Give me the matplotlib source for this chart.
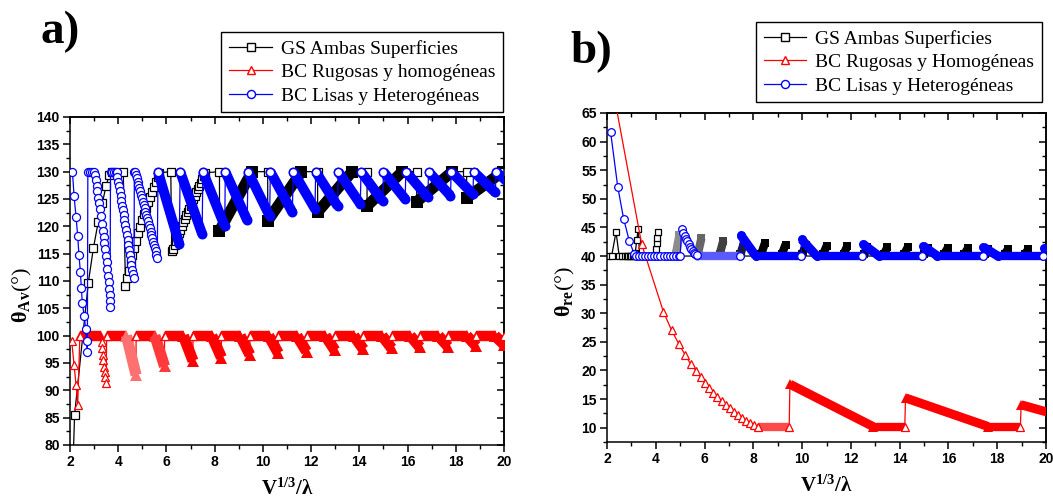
import matplotlib
matplotlib.use("Agg")
import matplotlib.pyplot as plt
from matplotlib.lines import Line2D
from matplotlib.ticker import MultipleLocator, NullFormatter
from matplotlib.font_manager import FontProperties

plt.rcParams.update({
    "font.family": "Liberation Sans",
    "font.weight": "bold",
    "mathtext.fontset": "custom",
    "mathtext.rm": "Liberation Serif:bold",
    "mathtext.it": "Liberation Serif:italic:bold",
    "mathtext.bf": "Liberation Serif:bold",
    "axes.linewidth": 1.1,
})

BLACK, RED, BLUE = "#000000", "#ff0000", "#0000ff"

# ------------------------------------------------------------------
# Panel a) : theta_Av versus V^(1/3)/lambda
# ------------------------------------------------------------------
CEIL_A = 130.0      # upper bound reached by GS and BC-lisas
PLATEAU_A = 100.0   # plateau of BC-rugosas

# GS ambas superficies: first teeth, point by point
gs_a_head_x = [2.08, 2.19, 2.76, 2.97, 3.17, 3.34, 3.49, 3.62, 3.73, 4.21,
               4.30, 4.35, 4.43, 4.51, 4.59, 4.67, 4.75, 4.83, 4.91, 4.99,
               5.07, 5.15, 5.23, 5.31, 5.39, 5.47, 5.55, 5.63, 5.71, 6.18,
               6.22, 6.28, 6.34, 6.40, 6.46, 6.52, 6.58, 6.64, 6.70, 6.76,
               6.82, 6.88, 6.94, 7.00, 7.06, 7.12, 7.18, 7.24, 7.30, 7.36,
               7.42, 7.48, 7.54, 7.60]
gs_a_head_y = [70.0, 85.5, 109.7, 116.0, 120.8, 124.2, 127.3, 129.3, 130.0, 130.0,
               109.0, 110.6, 111.9, 113.3, 114.7, 116.1, 117.4, 118.7, 119.9, 121.1,
               122.3, 123.4, 124.4, 125.4, 126.3, 127.2, 128.1, 129.0, 129.8, 130.0,
               115.4, 115.9, 116.6, 117.3, 118.0, 118.7, 119.4, 120.1, 120.8, 121.4,
               122.0, 122.6, 123.2, 123.8, 124.4, 125.0, 125.6, 126.2, 126.8, 127.4,
               128.0, 128.6, 129.2, 129.8]
# later teeth: drop position, value after the drop, position where 130 is regained
gs_a_drop_x = [8.20, 10.20, 12.27, 14.32, 16.38, 18.45]
gs_a_low_y = [119.2, 121.0, 122.6, 123.7, 124.5, 125.2]
gs_a_rise_x = [9.55, 11.60, 13.70, 15.78, 17.85, 19.95]

# BC rugosas y homogeneas
bcr_a_head_x = [2.07, 2.17, 2.25, 2.32, 2.41]
bcr_a_head_y = [99.0, 94.6, 91.0, 87.4, 100.0]
bcr_a_first_x = [3.28, 3.31, 3.33, 3.36, 3.38, 3.41, 3.44, 3.47, 3.50]
bcr_a_first_y = [100.0, 98.9, 97.7, 96.5, 95.6, 94.3, 93.4, 92.5, 91.4]
bcr_a_jump_x = [3.52, 4.74, 5.92, 7.10, 8.28, 9.46, 10.64, 11.81, 12.99,
                14.17, 15.34, 16.51, 17.68, 18.85, 20.02]
bcr_a_drop_x = [4.34, 5.52, 6.70, 7.88, 9.06, 10.24, 11.41, 12.59, 13.77,
                14.94, 16.11, 17.28, 18.45, 19.62]
bcr_a_low_y = [92.8, 94.4, 95.4, 96.0, 96.5, 96.8, 97.1, 97.3, 97.5,
               97.7, 97.9, 98.0, 98.1, 98.3]

# BC lisas y heterogeneas: first teeth, point by point
bcl_a_head_x = [2.10, 2.17, 2.25, 2.32, 2.37, 2.43, 2.47, 2.51, 2.59, 2.65, 2.69, 2.72,
                2.74, 2.83, 2.91, 2.98,
                3.02, 3.06, 3.10, 3.14, 3.18, 3.22, 3.26, 3.30, 3.33, 3.36, 3.40,
                3.43, 3.46, 3.49, 3.52, 3.55, 3.58, 3.60, 3.62, 3.64, 3.65, 3.66,
                3.68, 3.75, 3.82, 3.89, 3.94,
                3.97, 4.00, 4.03, 4.07, 4.10, 4.13, 4.16, 4.19, 4.23, 4.26, 4.29,
                4.32, 4.36, 4.39, 4.42, 4.45, 4.49, 4.52, 4.55, 4.58, 4.62, 4.65,
                4.67, 4.70,
                4.74, 4.77, 4.81, 4.84, 4.88, 4.91, 4.95, 4.98, 5.02, 5.05, 5.09,
                5.13, 5.16, 5.20, 5.23, 5.27, 5.30, 5.34, 5.37, 5.41, 5.44, 5.48,
                5.51, 5.55, 5.58, 5.62]
bcl_a_head_y = [130.0, 125.5, 121.7, 118.2, 114.8, 111.7, 108.8, 106.0, 103.6, 101.2, 99.0, 97.0,
                130.0, 130.0, 130.0, 130.0,
                129.3, 128.5, 127.4, 126.4, 125.2, 124.2, 123.1, 121.8, 120.5, 119.2, 118.0,
                116.9, 115.8, 114.6, 113.4, 112.2, 111.0, 109.8, 108.6, 107.4, 106.3, 105.3,
                130.0, 130.0, 130.0, 130.0, 130.0,
                129.1, 128.2, 127.3, 126.4, 125.5, 124.6, 123.8, 122.9, 122.0, 121.1, 120.2,
                119.3, 118.4, 117.5, 116.6, 115.7, 114.8, 113.9, 113.0, 112.1, 111.3, 110.5,
                130.0, 130.0,
                129.4, 128.8, 128.2, 127.6, 127.0, 126.4, 125.7, 125.1, 124.5, 123.9, 123.3,
                122.7, 122.1, 121.5, 120.9, 120.3, 119.7, 119.0, 118.4, 117.8, 117.2, 116.6,
                116.0, 115.4, 114.8, 114.2]
# later teeth: start at 130, end point before the jump back to 130
bcl_a_top_x = [5.65, 6.57, 7.51, 8.44, 9.38, 10.31, 11.26, 12.19, 13.13, 14.07,
               15.00, 15.93, 16.87, 17.81, 18.74, 19.67]
bcl_a_low_x = [6.53, 7.48, 8.42, 9.35, 10.28, 11.22, 12.16, 13.10, 14.04, 14.97,
               15.90, 16.84, 17.78, 18.71, 19.64, 20.58]
bcl_a_low_y = [116.8, 118.6, 120.0, 121.1, 121.9, 122.6, 123.2, 123.7, 124.1, 124.6,
               125.0, 125.3, 125.6, 125.9, 126.2, 126.4]

# ------------------------------------------------------------------
# Panel b) : theta_re versus V^(1/3)/lambda
# ------------------------------------------------------------------
BASE_B = 40.0    # floor of GS and BC-lisas
FLOOR_B = 10.2   # floor of BC-rugosas

gs_b_head_x = [2.05, 2.19, 2.37, 2.50, 2.62, 2.75, 2.82, 2.88, 2.94, 3.00, 3.06, 3.12,
               3.16, 3.22, 3.28, 3.34, 3.50, 3.70, 3.90, 4.00, 4.04, 4.07, 4.10, 4.15, 4.40]
gs_b_head_y = [40.0, 40.0, 44.2, 40.0, 40.0, 40.0, 40.0, 40.0, 40.0, 40.0, 40.0, 40.0,
               40.6, 42.8, 44.7, 40.0, 40.0, 40.0, 40.0, 41.3, 42.2, 43.2, 44.2, 40.0, 40.0]
gs_b_ramp_x = [4.82, 5.72, 6.62, 7.47, 8.32, 9.17, 10.00, 10.86, 11.70, 12.53,
               13.35, 14.18, 15.00, 15.82, 16.65, 17.48, 18.30, 19.13, 19.95]
gs_b_peak_y = [44.0, 43.4, 43.0, 42.7, 42.5, 42.3, 42.2, 42.1, 42.0, 41.9,
               41.85, 41.8, 41.75, 41.7, 41.65, 41.6, 41.55, 41.5, 41.5]

bcr_b_head_x = [2.10, 3.42, 4.31, 4.65, 4.95, 5.21, 5.44, 5.66, 5.84, 6.02, 6.19, 6.36,
                6.52, 6.70, 6.86, 7.03, 7.19, 7.36, 7.52, 7.68, 7.85, 8.01, 8.18]
bcr_b_head_y = [72.4, 42.1, 30.3, 27.0, 24.6, 22.7, 21.05, 19.9, 18.85, 17.8, 16.95, 16.15,
                15.4, 14.7, 14.05, 13.4, 12.8, 12.25, 11.7, 11.2, 10.75, 10.4, 10.2]
bcr_b_jump_x = [9.47, 14.21, 18.95]
bcr_b_peak_y = [17.6, 15.2, 14.0]
bcr_b_floor_x = [12.91, 17.63, 21.50]
bcr_b_end_y = [FLOOR_B, FLOOR_B, 11.0]

bcl_b_head_x = [2.15, 2.44, 2.68, 2.91, 3.12, 3.20, 3.32, 3.44, 3.57, 3.69, 3.82, 3.94,
                4.07, 4.19, 4.32, 4.44, 4.57, 4.69, 4.82, 4.94, 5.00,
                5.06, 5.13, 5.19, 5.24, 5.30, 5.35, 5.41, 5.46, 5.52, 5.57, 5.62, 5.68]
bcl_b_head_y = [61.6, 52.1, 46.55, 42.7, 40.3, 40.0, 40.0, 40.0, 40.0, 40.0, 40.0, 40.0,
                40.0, 40.0, 40.0, 40.0, 40.0, 40.0, 40.0, 40.0, 40.0,
                44.7, 44.1, 43.5, 43.05, 42.6, 42.1, 41.65, 41.25, 40.9, 40.6, 40.4, 40.2]
bcl_b_jump_x = [7.45, 9.95, 12.46, 14.92, 17.40, 19.88]
bcl_b_peak_y = [43.7, 42.9, 42.1, 41.8, 41.6, 41.4]
bcl_b_settle_x = [8.10, 10.60, 13.15, 15.55, 18.02, 20.50]

legend_a = ["GS Ambas Superficies", "BC Rugosas y homogéneas", "BC Lisas y Heterogéneas"]
legend_b = ["GS Ambas Superficies", "BC Rugosas y Homogéneas", "BC Lisas y Heterogéneas"]


# ------------------------------------------------------------------
# drawing helpers
# ------------------------------------------------------------------
def thin(ax, x, y, color, z):
    ax.plot(x, y, color=color, lw=0.9, zorder=z)


def marks(ax, x, y, color, marker, ms, z):
    ax.plot(x, y, ls="none", marker=marker, ms=ms, mfc="white", mec=color,
            mew=0.9, zorder=z)


def band(ax, x, y, color, marker, width, z):
    """A run of densely packed symbols, drawn as one thick stroke."""
    ax.plot(x, y, color=color, lw=width, solid_capstyle="butt", zorder=z,
            marker=marker, markevery=[0, -1], ms=width, mfc=color, mec=color, mew=0)


def frame(ax, ymajor, yminor):
    ax.xaxis.set_major_locator(MultipleLocator(2))
    ax.xaxis.set_minor_locator(MultipleLocator(1))
    ax.yaxis.set_major_locator(MultipleLocator(ymajor))
    ax.yaxis.set_minor_locator(MultipleLocator(yminor))
    ax.tick_params(which="major", direction="out", length=5, width=1.1,
                   labelsize=10, pad=2.5)
    ax.tick_params(which="minor", direction="out", length=3, width=1.0)
    top = ax.secondary_xaxis("top")
    top.xaxis.set_major_locator(MultipleLocator(2))
    top.xaxis.set_minor_locator(MultipleLocator(1))
    top.xaxis.set_major_formatter(NullFormatter())
    top.tick_params(which="major", direction="in", length=5, width=1.1)
    top.tick_params(which="minor", direction="in", length=3, width=1.0)
    right = ax.secondary_yaxis("right")
    right.yaxis.set_major_locator(MultipleLocator(ymajor))
    right.yaxis.set_minor_locator(MultipleLocator(yminor))
    right.yaxis.set_major_formatter(NullFormatter())
    right.tick_params(which="major", direction="in", length=5, width=1.1)
    right.tick_params(which="minor", direction="in", length=3, width=1.0)
    for sp in ax.spines.values():
        sp.set_linewidth(1.1)


def legend(ax, labels, anchor, fig):
    handles = [
        Line2D([], [], color=BLACK, lw=0.9, marker="s", ms=5.5, mfc="white", mec=BLACK),
        Line2D([], [], color=RED, lw=0.9, marker="^", ms=6, mfc="white", mec=RED),
        Line2D([], [], color=BLUE, lw=0.9, marker="o", ms=5.8, mfc="white", mec=BLUE),
    ]
    leg = ax.legend(handles, labels, loc="upper right", bbox_to_anchor=anchor,
                    bbox_transform=fig.transFigure, frameon=True, fancybox=False,
                    edgecolor="black", framealpha=1, borderpad=0.4,
                    labelspacing=0.3, handlelength=2.2, handletextpad=0.45,
                    borderaxespad=0,
                    prop=FontProperties(family="Liberation Serif", size=14,
                                        weight="normal"))
    leg.get_frame().set_linewidth(1.0)
    return leg


fig = plt.figure(figsize=(10.53, 5.0), dpi=100)
ax_a = fig.add_axes([70 / 1053, 55 / 500, 434 / 1053, 328 / 500])
ax_b = fig.add_axes([607 / 1053, 58 / 500, 439 / 1053, 329 / 500])

# ---------------- panel a ----------------
ax = ax_a
# GS
x, y = list(gs_a_head_x), list(gs_a_head_y)
for d, lo, r in zip(gs_a_drop_x, gs_a_low_y, gs_a_rise_x):
    x += [d, d, r]
    y += [CEIL_A, lo, CEIL_A]
x.append(20.0)
y.append(CEIL_A)
thin(ax, x, y, BLACK, 2.0)
for d, lo, r in zip(gs_a_drop_x, gs_a_low_y, gs_a_rise_x):
    band(ax, [d, r], [lo, CEIL_A], BLACK, "s", 8.0, 2.1)
marks(ax, gs_a_head_x + gs_a_drop_x + [20.0],
      gs_a_head_y + [CEIL_A] * len(gs_a_drop_x) + [CEIL_A], BLACK, "s", 5.5, 2.2)

# BC rugosas
x = bcr_a_head_x + [bcr_a_first_x[0]] + bcr_a_first_x + [bcr_a_jump_x[0]]
y = bcr_a_head_y + [PLATEAU_A] + bcr_a_first_y + [PLATEAU_A]
for d, j, lo in zip(bcr_a_drop_x, bcr_a_jump_x[1:], bcr_a_low_y):
    x += [d, j, j]
    y += [PLATEAU_A, lo, PLATEAU_A]
thin(ax, x, y, RED, 3.0)
band(ax, [bcr_a_head_x[-1], bcr_a_first_x[0]], [PLATEAU_A, PLATEAU_A], RED, "^", 7.5, 3.1)
descent_colors = ["#ff7070", "#ff3a3a"]
for i, (j0, d, j1, lo) in enumerate(zip(bcr_a_jump_x[:-1], bcr_a_drop_x,
                                         bcr_a_jump_x[1:], bcr_a_low_y)):
    band(ax, [j0, d], [PLATEAU_A, PLATEAU_A], RED, "^", 7.5, 3.1)
    c = descent_colors[i] if i < len(descent_colors) else RED
    band(ax, [d, j1], [PLATEAU_A, lo], c, "^", 8.0, 3.1)
marks(ax, bcr_a_head_x + bcr_a_first_x[1:] + bcr_a_jump_x,
      bcr_a_head_y + bcr_a_first_y[1:] + [PLATEAU_A] * len(bcr_a_jump_x),
      RED, "^", 6.0, 3.2)

# BC lisas
x, y = list(bcl_a_head_x), list(bcl_a_head_y)
for t, lx, ly in zip(bcl_a_top_x, bcl_a_low_x, bcl_a_low_y):
    x += [t, lx]
    y += [CEIL_A, ly]
thin(ax, x, y, BLUE, 4.0)
for t, lx, ly in zip(bcl_a_top_x, bcl_a_low_x, bcl_a_low_y):
    band(ax, [t, lx], [CEIL_A, ly], BLUE, "o", 7.2, 4.1)
marks(ax, bcl_a_head_x + bcl_a_top_x,
      bcl_a_head_y + [CEIL_A] * len(bcl_a_top_x), BLUE, "o", 5.8, 4.2)

ax.set_xlim(2, 20)
ax.set_ylim(80, 140)
frame(ax, 5, 2.5)
ax.set_xlabel(r"$\mathrm{V^{1/3}/\lambda}$", fontsize=15)
ax.xaxis.set_label_coords(0.5, -0.098)
ax.set_ylabel(r"$\mathrm{\theta_{Av}}$(°)", fontsize=16, family="Liberation Serif")
ax.yaxis.set_label_coords(-0.082, 0.457)
legend(ax, legend_a, (503 / 1053, 1 - 32 / 500), fig)

# ---------------- panel b ----------------
ax = ax_b
# GS
x, y = list(gs_b_head_x), list(gs_b_head_y)
for r, p in zip(gs_b_ramp_x, gs_b_peak_y):
    x += [r, r + 0.15, r + 0.17]
    y += [BASE_B, p, BASE_B]
x.append(20.5)
y.append(BASE_B)
thin(ax, x, y, BLACK, 2.0)
ramp_colors = ["0.55", "0.4", "0.25", "0.12"]
for i, (r, p) in enumerate(zip(gs_b_ramp_x, gs_b_peak_y)):
    c = ramp_colors[i] if i < len(ramp_colors) else BLACK
    band(ax, [r, r + 0.15], [BASE_B + 0.3, p - 0.3], c, "s", 6.0, 2.1)
marks(ax, gs_b_head_x, gs_b_head_y, BLACK, "s", 5.0, 2.2)

# BC rugosas
x, y = list(bcr_b_head_x), list(bcr_b_head_y)
for j, p, f, e in zip(bcr_b_jump_x, bcr_b_peak_y, bcr_b_floor_x, bcr_b_end_y):
    x += [j, j + 0.03, f]
    y += [FLOOR_B, p, e]
thin(ax, x, y, RED, 3.0)
flat_from = [bcr_b_head_x[-1]] + bcr_b_floor_x[:-1]
for i, (s, j, p, f, e) in enumerate(zip(flat_from, bcr_b_jump_x, bcr_b_peak_y,
                                        bcr_b_floor_x, bcr_b_end_y)):
    band(ax, [s, j], [FLOOR_B, FLOOR_B], "#ff4a4a" if i == 0 else RED, "^", 6.0, 3.1)
    band(ax, [j + 0.03, f], [p, e], RED, "^", 6.5, 3.1)
marks(ax, bcr_b_head_x + bcr_b_jump_x,
      bcr_b_head_y + [FLOOR_B] * len(bcr_b_jump_x), RED, "^", 6.0, 3.2)

# BC lisas
x, y = list(bcl_b_head_x), list(bcl_b_head_y)
for j, p, s in zip(bcl_b_jump_x, bcl_b_peak_y, bcl_b_settle_x):
    x += [j, j + 0.03, s]
    y += [BASE_B, p, BASE_B]
thin(ax, x, y, BLUE, 4.0)
flat_from = [bcl_b_head_x[-1]] + bcl_b_settle_x[:-1]
for i, (f0, j, p, s) in enumerate(zip(flat_from, bcl_b_jump_x, bcl_b_peak_y,
                                      bcl_b_settle_x)):
    band(ax, [f0, j], [BASE_B, BASE_B], "#5a5aff" if i == 0 else BLUE, "o", 6.0, 4.1)
    band(ax, [j + 0.03, s], [p, BASE_B], BLUE, "o", 6.5, 4.1)
marks(ax, bcl_b_head_x + bcl_b_jump_x,
      bcl_b_head_y + [BASE_B] * len(bcl_b_jump_x), BLUE, "o", 5.5, 4.2)

ax.set_xlim(2, 20)
ax.set_ylim(7.5, 65)
frame(ax, 5, 2.5)
ax.set_xlabel(r"$\mathrm{V^{1/3}/\lambda}$", fontsize=15)
ax.xaxis.set_label_coords(0.5, -0.098)
ax.set_ylabel(r"$\mathrm{\theta_{re}}$(°)", fontsize=16, family="Liberation Serif")
ax.yaxis.set_label_coords(-0.068, 0.457)
legend(ax, legend_b, (1042 / 1053, 1 - 22 / 500), fig)

fig.text(40 / 1053, 1 - 11 / 500, "a)", fontsize=34, fontweight="bold",
         family="Liberation Serif", ha="left", va="top")
fig.text(570 / 1053, 1 - 31 / 500, "b)", fontsize=34, fontweight="bold",
         family="Liberation Serif", ha="left", va="top")

fig.savefig("out.png", dpi=100, facecolor="white")
